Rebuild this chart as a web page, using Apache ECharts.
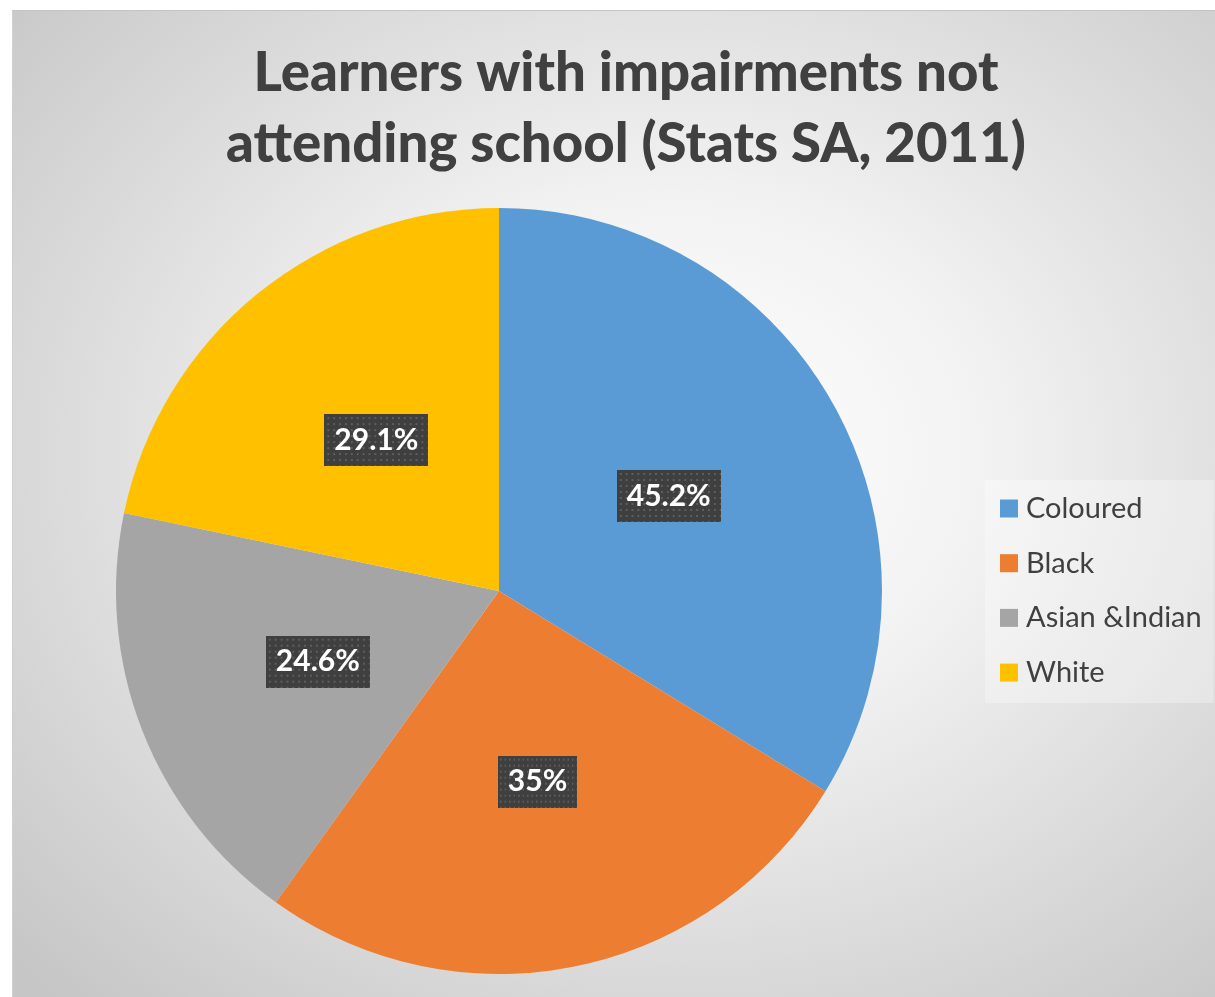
<!DOCTYPE html>
<html>
<head>
<meta charset="utf-8">
<script src="https://cdn.jsdelivr.net/npm/echarts@6/dist/echarts.min.js"></script>
<style>
  html, body { margin: 0; padding: 0; background: #ffffff; }
  #bg {
    position: absolute; left: 12px; top: 10px; width: 1203px; height: 987px;
    background: radial-gradient(ellipse 75% 75% at 55% 45%, #ffffff 0%, #f2f2f2 35%, #dadada 70%, #c6c6c6 100%);
    border-top: 1px solid #c4c4c4; border-left: 1px solid #d0d0d0; box-sizing: border-box;
  }
  #chart { position: absolute; left: 0; top: 0; width: 1215px; height: 997px; }
</style>
</head>
<body>
<div id="bg"></div>
<div id="chart"></div>
<script>
const titleText = 'Learners with impairments not\nattending school (Stats SA, 2011)';
const categories = ['Coloured', 'Black', 'Asian &Indian', 'White'];
const values = [45.2, 35, 24.6, 29.1];
const colors = ['#5B9BD5', '#ED7D31', '#A5A5A5', '#FFC000'];

// dotted dark pattern for data label boxes
function makePattern(w, h) {
  const c = document.createElement('canvas');
  c.width = w; c.height = h;
  const g = c.getContext('2d');
  g.fillStyle = '#3f3f3f';
  g.fillRect(0, 0, w, h);
  g.fillStyle = '#5e5e5e';
  for (let y = 3; y < h; y += 6) {
    for (let x = 3; x < w; x += 6) {
      g.fillRect(x, y, 2, 2);
    }
  }
  return c;
}
const pat = makePattern(106, 52);

const chart = echarts.init(document.getElementById('chart'), null, { renderer: 'canvas' });
const font = 'Lato, "Noto Sans", sans-serif';

chart.setOption({
  backgroundColor: 'transparent',
  animation: false,
  title: {
    text: titleText,
    left: 621,
    top: 33,
    textAlign: 'center',
    textStyle: {
      fontFamily: font,
      fontWeight: 900,
      fontSize: 54.5,
      lineHeight: 71,
      color: '#404040'
    }
  },
  legend: {
    orient: 'vertical',
    left: 985,
    top: 480,
    padding: [14, 12, 16, 15],
    backgroundColor: 'rgba(255,255,255,0.3)',
    itemWidth: 18,
    itemHeight: 18,
    itemGap: 25.7,
    icon: 'rect',
    data: categories,
    textStyle: {
      fontFamily: font,
      fontSize: 29,
      lineHeight: 28,
      color: '#404040',
      padding: [0, 0, 0, 3]
    }
  },
  series: [{
    type: 'pie',
    center: [499, 591],
    radius: [0, 383],
    startAngle: 90,
    clockwise: true,
    avoidLabelOverlap: false,
    data: categories.map((n, i) => ({ name: n, value: values[i], itemStyle: { color: colors[i] } })),
    itemStyle: { borderWidth: 0 },
    label: {
      show: true,
      position: 'inside',
      formatter: p => p.value + '%',
      fontFamily: font,
      fontWeight: 'bold',
      fontSize: 30,
      lineHeight: 32,
      color: '#ffffff',
      backgroundColor: { image: pat },
      padding: [11, 10, 9, 10],
      shadowColor: 'rgba(0,0,0,0.6)',
      shadowBlur: 7,
      shadowOffsetX: 4,
      shadowOffsetY: 5
    },
    labelLine: { show: false },
    emphasis: { disabled: true }
  }]
});
</script>
</body>
</html>
